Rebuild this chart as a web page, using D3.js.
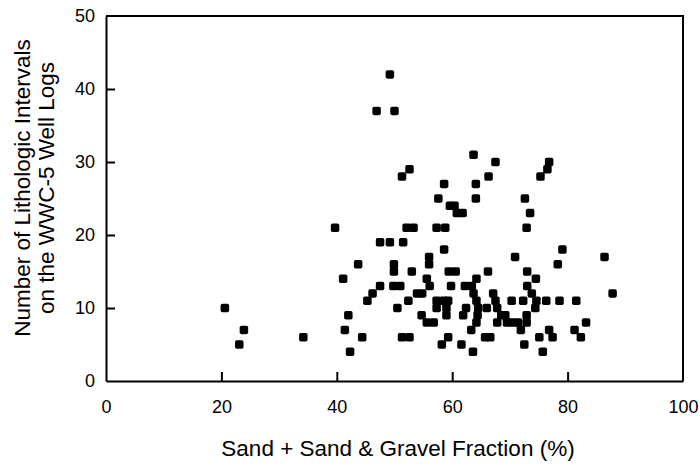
<!DOCTYPE html>
<html>
<head>
<meta charset="utf-8">
<script src="https://cdn.jsdelivr.net/npm/d3@7/dist/d3.min.js"></script>
<style>
  html, body { margin: 0; padding: 0; background: #fff; }
  svg { display: block; font-family: "Liberation Sans", Arial, Helvetica, sans-serif; }
</style>
</head>
<body>
<svg id="chart" width="700" height="467"></svg>
<script>
// Sand + sand & gravel fraction (%) for each well log
const sandFraction = [
  49.2,
  46.9, 50.0,
  63.7,
  67.5, 76.8,
  76.5, 52.6,
  75.3, 66.3, 51.3,
  58.6, 64.1,
  57.6, 64.1, 72.6,
  59.6, 60.4, 60.8, 61.8, 73.5,
  39.7, 52.1, 53.3, 57.3, 58.8, 72.9,
  47.5, 49.2, 51.5,
  58.6, 79.1,
  56.0, 70.9, 86.4,
  43.7, 49.9, 56.0, 78.3,
  49.9, 53.0, 59.4, 60.6, 66.2, 73.0,
  41.1, 55.6, 64.2, 74.5,
  47.5, 49.8, 51.0, 56.1, 59.8, 62.2, 63.4, 73.0,
  46.2, 53.9, 54.8, 63.7, 67.1, 73.8, 87.8,
  45.3, 52.4, 57.3, 58.5, 59.3, 64.2, 67.5, 70.3, 72.3, 74.6, 76.3, 78.6, 81.5,
  20.6, 50.5, 57.3, 59.0, 62.4, 64.5, 66.0, 67.8, 74.4,
  42.0, 54.7, 59.0, 61.9, 64.4, 68.5, 69.2, 72.9,
  55.6, 56.8, 64.2, 67.8, 69.5, 70.4, 71.4, 72.9, 83.2,
  23.9, 41.4, 63.3, 71.9, 76.8, 81.2,
  34.2, 44.4, 51.3, 52.6, 59.3, 65.7, 66.6, 75.1, 77.4, 82.3,
  23.1, 58.2, 61.6, 72.5,
  42.3, 63.6, 75.7
];

// Number of lithologic intervals on the same well log
const intervalCount = [
  42,
  37, 37,
  31,
  30, 30,
  29, 29,
  28, 28, 28,
  27, 27,
  25, 25, 25,
  24, 24, 23, 23, 23,
  21, 21, 21, 21, 21, 21,
  19, 19, 19,
  18, 18,
  17, 17, 17,
  16, 16, 16, 16,
  15, 15, 15, 15, 15, 15,
  14, 14, 14, 14,
  13, 13, 13, 13, 13, 13, 13, 13,
  12, 12, 12, 12, 12, 12, 12,
  11, 11, 11, 11, 11, 11, 11, 11, 11, 11, 11, 11, 11,
  10, 10, 10, 10, 10, 10, 10, 10, 10,
  9, 9, 9, 9, 9, 9, 9, 9,
  8, 8, 8, 8, 8, 8, 8, 8, 8,
  7, 7, 7, 7, 7, 7,
  6, 6, 6, 6, 6, 6, 6, 6, 6, 6,
  5, 5, 5, 5,
  4, 4, 4
];

const xTicks = [0, 20, 40, 60, 80, 100];
const yTicks = [0, 10, 20, 30, 40, 50];

const xTitle = "Sand + Sand & Gravel Fraction (%)";
const yTitleLines = ["Number of Lithologic Intervals", "on the WWC-5 Well Logs"];

const width = 700, height = 467;
const margin = { top: 16, right: 17, bottom: 86, left: 106 };

const svg = d3.select("#chart");

const x = d3.scaleLinear().domain([0, 100]).range([margin.left, width - margin.right]);
const y = d3.scaleLinear().domain([0, 50]).range([height - margin.bottom, margin.top]);

const points = sandFraction.map((v, i) => ({ x: v, y: intervalCount[i] }));

// Frame: top and right edges
svg.append("path")
  .attr("d", `M${x(0)},${y(50)}H${x(100)}V${y(0)}`)
  .attr("fill", "none")
  .attr("stroke", "#000")
  .attr("stroke-width", 2);

// Bottom axis with inward ticks
const gx = svg.append("g")
  .attr("transform", `translate(0,${y(0)})`)
  .call(d3.axisBottom(x).tickValues(xTicks).tickSizeInner(-9).tickSizeOuter(0).tickPadding(19));

// Left axis with inward ticks
const gy = svg.append("g")
  .attr("transform", `translate(${x(0)},0)`)
  .call(d3.axisLeft(y).tickValues(yTicks).tickSizeInner(-9).tickSizeOuter(0).tickPadding(11));

[gx, gy].forEach(g => {
  g.select(".domain").attr("stroke", "#000").attr("stroke-width", 2);
  g.selectAll(".tick line").attr("stroke", "#000").attr("stroke-width", 2);
  g.selectAll(".tick text")
    .attr("fill", "#000")
    .attr("font-size", 18)
    .attr("font-family", "Liberation Sans, Arial, sans-serif");
});
gx.selectAll(".tick").filter(d => d === 0 || d === 100).select("line").remove();
gy.selectAll(".tick").filter(d => d === 0 || d === 50).select("line").remove();

// Data markers: small rounded black squares
const s = 8.5;
svg.append("g")
  .selectAll("rect")
  .data(points)
  .join("rect")
  .attr("x", d => x(d.x) - s / 2)
  .attr("y", d => y(d.y) - s / 2)
  .attr("width", s)
  .attr("height", s)
  .attr("rx", 1.8)
  .attr("fill", "#000");

// Axis titles
svg.append("text")
  .attr("x", 398)
  .attr("y", 456)
  .attr("text-anchor", "middle")
  .attr("font-size", 22.5)
  .attr("fill", "#000")
  .text(xTitle);

const yt = svg.append("text")
  .attr("transform", `translate(30,${188}) rotate(-90)`)
  .attr("text-anchor", "middle")
  .attr("font-size", 22.5)
  .attr("fill", "#000");
yTitleLines.forEach((line, i) => {
  yt.append("tspan")
    .attr("x", 0)
    .attr("dy", i === 0 ? 0 : 24)
    .text(line);
});
</script>
</body>
</html>
